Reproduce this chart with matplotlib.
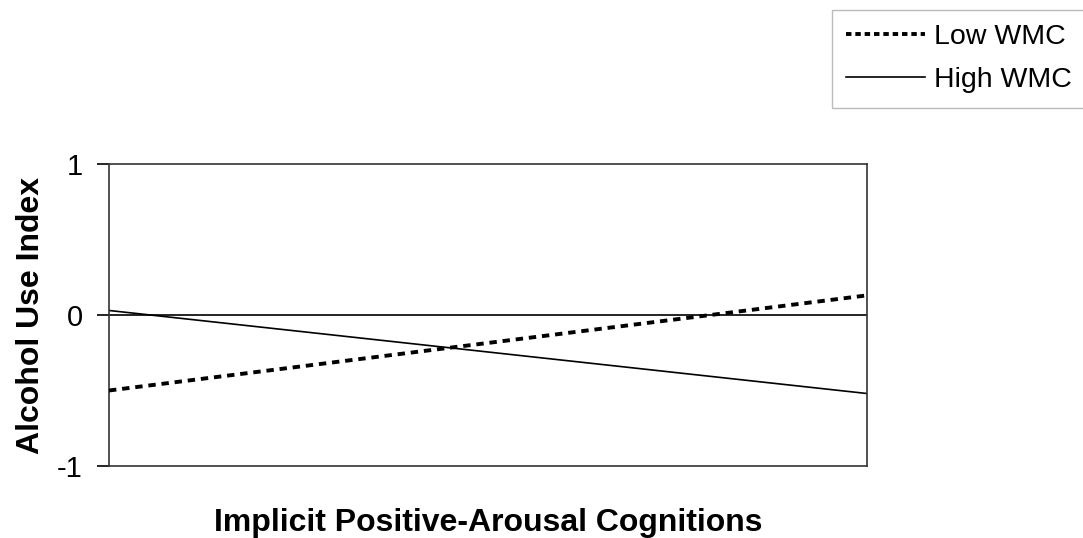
import matplotlib
matplotlib.use("Agg")
import matplotlib.pyplot as plt

# donnees (deux extremites de chaque droite)
x_points = [0, 1]
low_wmc = [-0.50, 0.13]
high_wmc = [0.03, -0.52]
y_ticks = [-1, 0, 1]
series_names = ["Low WMC", "High WMC"]

plt.rcParams['font.family'] = ['Liberation Sans', 'DejaVu Sans']

fig = plt.figure(figsize=(10.83, 5.38), dpi=100)
ax = fig.add_axes([109 / 1083, 1 - 466 / 538, 758 / 1083, 302 / 538])

# ligne du zero
ax.axhline(0, color='black', lw=1.2, zorder=1)

ln_low, = ax.plot(x_points, low_wmc, color='black', lw=2.8, linestyle=(0, (1.9, 1.5)),
                  dash_capstyle='butt', label=series_names[0], zorder=3)
ln_high, = ax.plot(x_points, high_wmc, color='black', lw=1.2, label=series_names[1], zorder=2)

ax.set_xlim(0, 1)
ax.set_ylim(-1, 1)
ax.set_xticks([])
ax.set_yticks(y_ticks)
ax.set_yticklabels([str(v) for v in y_ticks], fontsize=21)
ax.tick_params(axis='y', length=9, width=1.2, pad=10)
for s in ax.spines.values():
    s.set_linewidth(1.2)
    s.set_color('#333333')

ax.set_ylabel("Alcohol Use Index", fontsize=23, fontweight='bold', labelpad=8)
ax.set_xlabel("Implicit Positive-Arousal Cognitions", fontsize=23, fontweight='bold', labelpad=30)

leg = fig.legend(handles=[ln_low, ln_high], loc='upper left',
                 bbox_to_anchor=(832 / 1083, 1 - 10 / 538), fontsize=20.5,
                 frameon=True, fancybox=False, handlelength=2.75, handletextpad=0.35,
                 borderpad=0.5, labelspacing=0.6, borderaxespad=0)
leg.get_frame().set_edgecolor('#aaaaaa')
leg.get_frame().set_linewidth(1.0)
leg.get_lines()[0].set_linestyle((0, (1.4, 1.0)))

fig.savefig("out.png", dpi=100)
